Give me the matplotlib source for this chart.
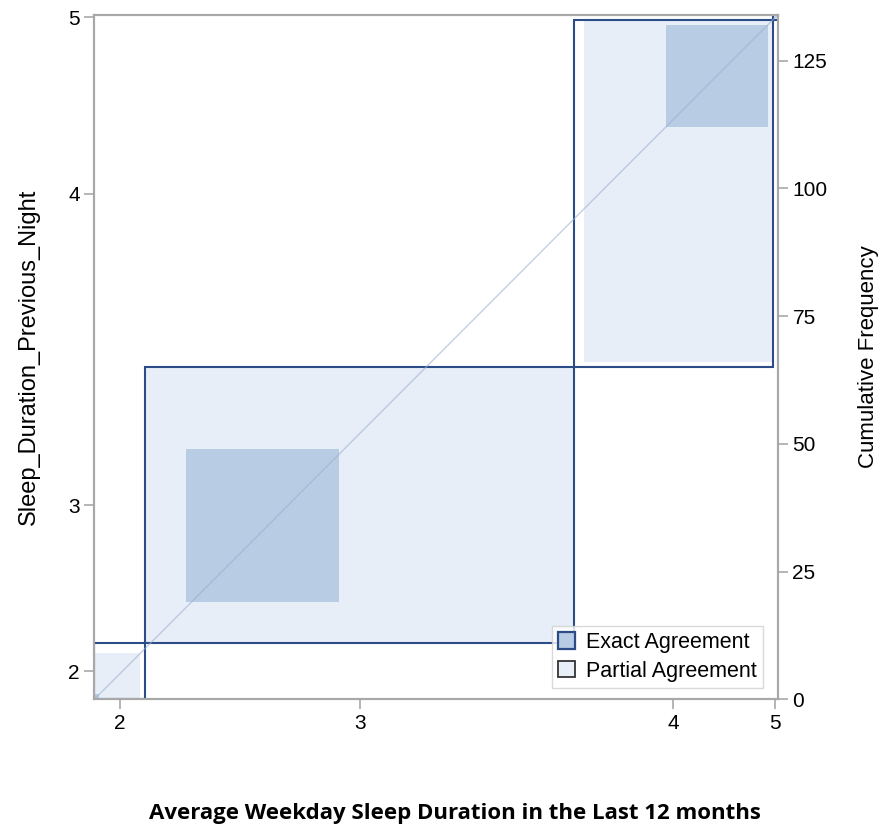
import numpy as np
import matplotlib.pyplot as plt
from matplotlib.patches import Rectangle, Patch

# categories and contingency table (rows = previous night, cols = weekday average)
cats = ['2', '3', '4', '5']
counts = np.array([
    [1, 8, 2, 0],
    [8, 30, 16, 0],
    [1, 46, 20, 1],
    [0, 0, 1, 0],
])
freq_ticks = [0, 25, 50, 75, 100, 125]

line_c = '#2B4C86'
exact_c = '#B8CCE4'
partial_c = '#E8EEF8'
diag_c = '#9DB0D0'
frame_c = '#A8A8A8'

plt.rcParams['font.family'] = ['Liberation Sans', 'DejaVu Sans']

n = counts.sum()
col_tot = counts.sum(axis=0)
row_tot = counts.sum(axis=1)
xc = np.concatenate([[0], np.cumsum(col_tot)])
yc = np.concatenate([[0], np.cumsum(row_tot)])
k = len(cats)

fig = plt.figure(figsize=(8.9, 8.27), dpi=100)
ax = fig.add_axes([0.106, 0.1544, 0.768, 0.8277])

for i in range(k):
    # partial agreement: cells one step off the diagonal
    lo = max(i - 1, 0)
    hi = min(i + 1, k - 1)
    px0 = xc[i] + counts[:lo, i].sum()
    pw = counts[lo:hi + 1, i].sum()
    py0 = yc[i] + counts[i, :lo].sum()
    ph = counts[i, lo:hi + 1].sum()
    ax.add_patch(Rectangle((px0, py0), pw, ph, facecolor=partial_c, edgecolor='none', zorder=1))
    # exact agreement
    ex0 = xc[i] + counts[:i, i].sum()
    ey0 = yc[i] + counts[i, :i].sum()
    ax.add_patch(Rectangle((ex0, ey0), counts[i, i], counts[i, i], facecolor=exact_c, edgecolor='none', zorder=2))

for i in range(k):
    ax.add_patch(Rectangle((xc[i], yc[i]), col_tot[i], row_tot[i], facecolor='none',
                           edgecolor=line_c, lw=1.5, zorder=3))

ax.plot([0, n], [0, n], color=diag_c, lw=1, alpha=0.6, zorder=4)

ax.set_xlim(0, n)
ax.set_ylim(0, n)
for s in ax.spines.values():
    s.set_color(frame_c)
    s.set_linewidth(1.5)
    s.set_zorder(5)

ax.set_xticks((xc[:-1] + xc[1:]) / 2)
ax.set_xticklabels(cats)
ax.set_yticks((yc[:-1] + yc[1:]) / 2)
ax.set_yticklabels(cats)
ax.tick_params(colors=frame_c, labelcolor='black', labelsize=15, length=7, width=1.2)

ax2 = ax.twinx()
ax2.set_ylim(0, n)
ax2.set_yticks(freq_ticks)
ax2.tick_params(colors=frame_c, labelcolor='black', labelsize=15, length=7, width=1.2)
for s in ax2.spines.values():
    s.set_color(frame_c)
    s.set_linewidth(1.5)
ax2.set_ylabel('Cumulative Frequency', fontsize=16, labelpad=22, rotation=90)

ax.set_ylabel('Sleep_Duration_Previous_Night', fontsize=17, labelpad=20)
ax.set_xlabel('Average Weekday Sleep Duration in the Last 12 months', fontsize=16,
              fontweight='bold', family=['Open Sans', 'DejaVu Sans'])
ax.xaxis.set_label_coords(0.528, -0.152)

handles = [Patch(facecolor=exact_c, edgecolor=line_c, lw=1.6, label='Exact Agreement'),
           Patch(facecolor=partial_c, edgecolor='#333333', lw=1.3, label='Partial Agreement')]
leg = ax2.legend(handles=handles, loc='lower right', bbox_to_anchor=(0.985, 0.01),
                 fontsize=15.5, frameon=True, fancybox=False, handlelength=0.8,
                 handleheight=0.8, handletextpad=0.5, borderpad=0.3, labelspacing=0.35,
                 borderaxespad=0.2)
leg.get_frame().set_edgecolor('#D0D0D0')
leg.get_frame().set_linewidth(1)

fig.savefig('out.png', dpi=100)
